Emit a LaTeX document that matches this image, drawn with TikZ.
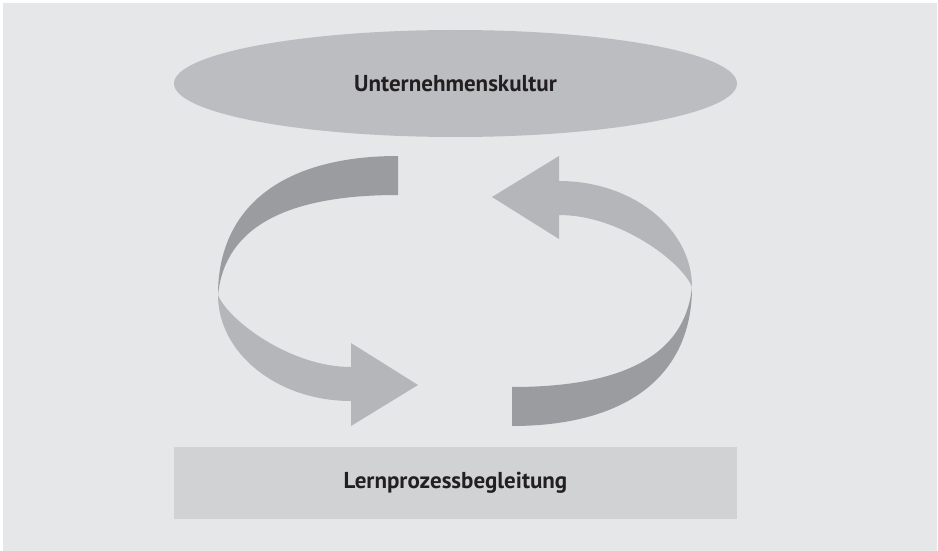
\documentclass[tikz,border=0pt]{standalone}
\usepackage{fontspec}
\setmainfont{PT Sans}
\usetikzlibrary{shapes.geometric}
\definecolor{bgc}{HTML}{E6E7E8}
\definecolor{ellc}{HTML}{BCBDC0}
\definecolor{rectc}{HTML}{D1D2D4}
\definecolor{darkc}{HTML}{9B9C9F}
\definecolor{lightc}{HTML}{B5B6B9}
\definecolor{txtc}{HTML}{231F20}
\tikzset{
  lbl/.style={text=txtc, font=\bfseries\fontsize{23}{27}\selectfont, inner sep=0pt},
  culturebox/.style={ellipse, fill=ellc, minimum width=563pt, minimum height=107pt, lbl},
  basebox/.style={rectangle, fill=rectc, minimum width=563pt, minimum height=72pt, lbl},
  darkband/.style={fill=darkc},
  lightband/.style={fill=lightc}
}
\begin{document}
\begin{tikzpicture}[x=1pt,y=-1pt]
\useasboundingbox (0,0) rectangle (938,551);
\fill[white] (0,0) rectangle (938,551);
\fill[bgc] (3,3) rectangle (937,551);
\node[culturebox] (culture) at (455.5,83.5) {Unternehmenskultur};
\node[basebox] (base) at (455.5,483) {Lernprozessbegleitung};
\foreach \ang in {0,180}{
\begin{scope}[rotate around={\ang:(455,291)}]
  \fill[darkband] (398,156) -- (398,195) .. controls (290,195) and (225,225) .. (218,295)
     .. controls (218,205) and (285,156) .. (398,156) -- cycle;
  \fill[lightband] (218,295) .. controls (218,353) and (277,401) .. (351,401)
     -- (351,426) -- (418,385) -- (351,343) -- (351,367)
     .. controls (290,367) and (228,320) .. (218,295) -- cycle;
\end{scope}
}
\end{tikzpicture}
\end{document}
